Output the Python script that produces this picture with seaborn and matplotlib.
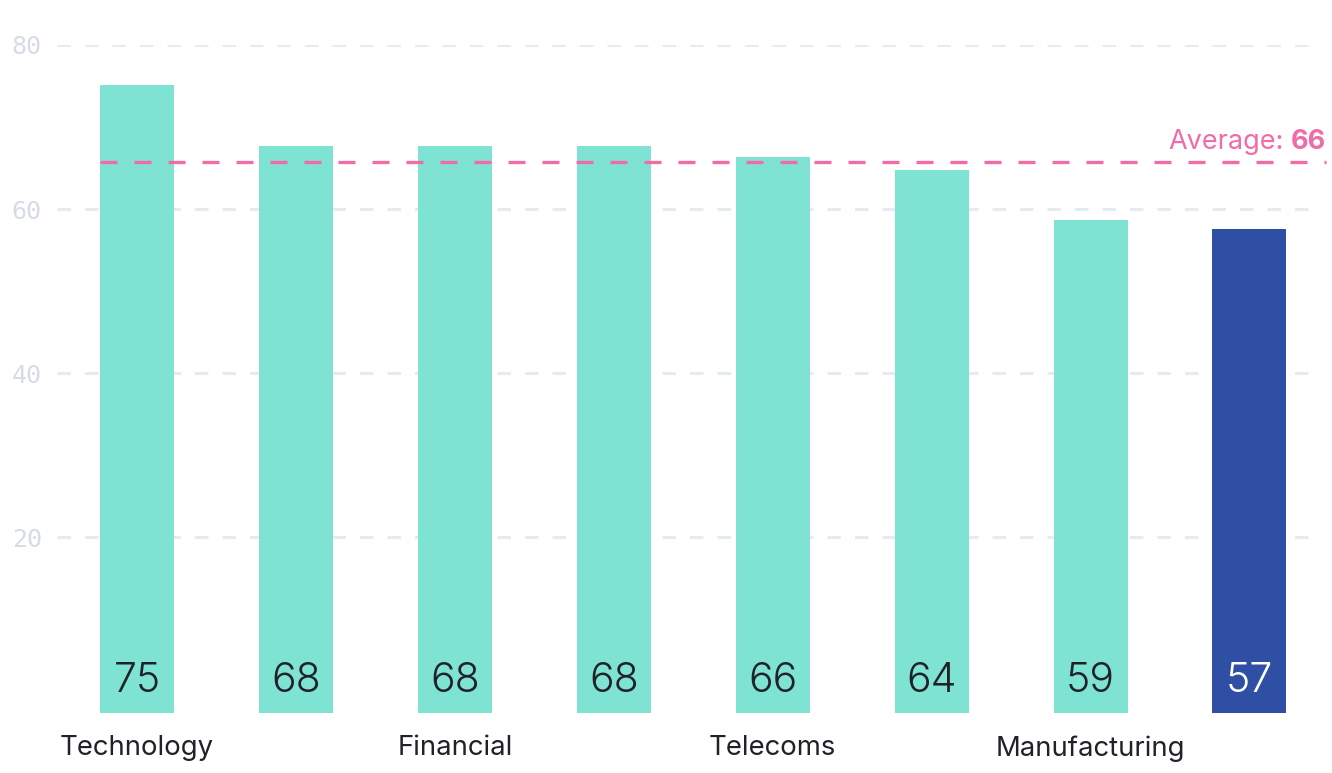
import pandas as pd
import matplotlib
matplotlib.use("Agg")
import matplotlib.pyplot as plt
import seaborn as sns

# data
sectors = ["Technology", "Professional Services", "Financial", "Healthcare",
           "Telecoms", "Retail", "Manufacturing", "Public Sector"]
scores = [75.1, 67.7, 67.7, 67.7, 66.3, 64.8, 58.7, 57.6]
score_labels = ["75", "68", "68", "68", "66", "64", "59", "57"]
tick_labels = ["Technology", "", "Financial", "", "Telecoms", "", "Manufacturing", ""]
y_ticks = [20, 40, 60, 80]

TEAL = "#7fe3d3"
BLUE = "#2e4fa3"
PINK = "#f06ba8"
GRID = "#e6eaf1"
TICK = "#d5dce6"
DARK = "#1f2328"

df = pd.DataFrame({"sector": sectors, "score": scores})
bar_colors = [TEAL] * (len(sectors) - 1) + [BLUE]

sns.set_theme(style="white")
plt.rcParams["font.family"] = ["Inter", "DejaVu Sans"]

fig = plt.figure(figsize=(13.32, 7.73), dpi=100)
ax = fig.add_axes([57 / 1332, 60 / 773, 1256 / 1332, 668 / 773])

sns.barplot(data=df, x="sector", y="score", hue="sector", palette=bar_colors,
            legend=False, width=0.466, saturation=1, linewidth=0, ax=ax, zorder=3)

# bars sit a little below the zero line
base = -1.46
for p in ax.patches:
    h = p.get_height()
    p.set_y(base)
    p.set_height(h - base)

ax.set_ylim(base, 80)
ax.set_xlim(-0.504, 7.40)

# dashed grid
for t in y_ticks:
    ax.axhline(t, color=GRID, lw=2.2, ls=(0, (4.4, 4.6)), zorder=1)

ax.set_yticks(y_ticks)
ax.set_yticklabels([str(t) for t in y_ticks], family="DejaVu Sans Mono",
                   fontsize=18, color=TICK)
ax.set_xticks(range(len(sectors)))
ax.set_xticklabels(tick_labels, fontsize=19.8, color=DARK)
ax.tick_params(axis="y", length=0, pad=11)
ax.tick_params(axis="x", length=0, pad=16)
ax.set_xlabel("")
ax.set_ylabel("")
sns.despine(ax=ax, left=True, bottom=True)

# values inside bars
for i, lab in enumerate(score_labels):
    ax.text(i, 2.4, lab, ha="center", va="center", fontsize=29.5, fontweight=300,
            color="white" if i == len(score_labels) - 1 else DARK, zorder=4)

# average line
avg = sum(scores) / len(scores)
ax.axhline(avg, xmin=(100 - 57) / 1256, xmax=(1326 - 57) / 1256, color=PINK,
           lw=2.4, ls=(0, (5.1, 5.1)), clip_on=False, zorder=5)
num = fig.text(1326 / 1332, 1 - 149 / 773, f"{avg:.0f}", ha="right", va="baseline",
               fontsize=19.5, color=PINK, fontweight="bold")
fig.canvas.draw()
w = num.get_window_extent().width
fig.text((1326 - w - 7) / 1332, 1 - 149 / 773, "Average:", ha="right", va="baseline",
         fontsize=19.5, color=PINK)

fig.savefig("out.png", dpi=100)
